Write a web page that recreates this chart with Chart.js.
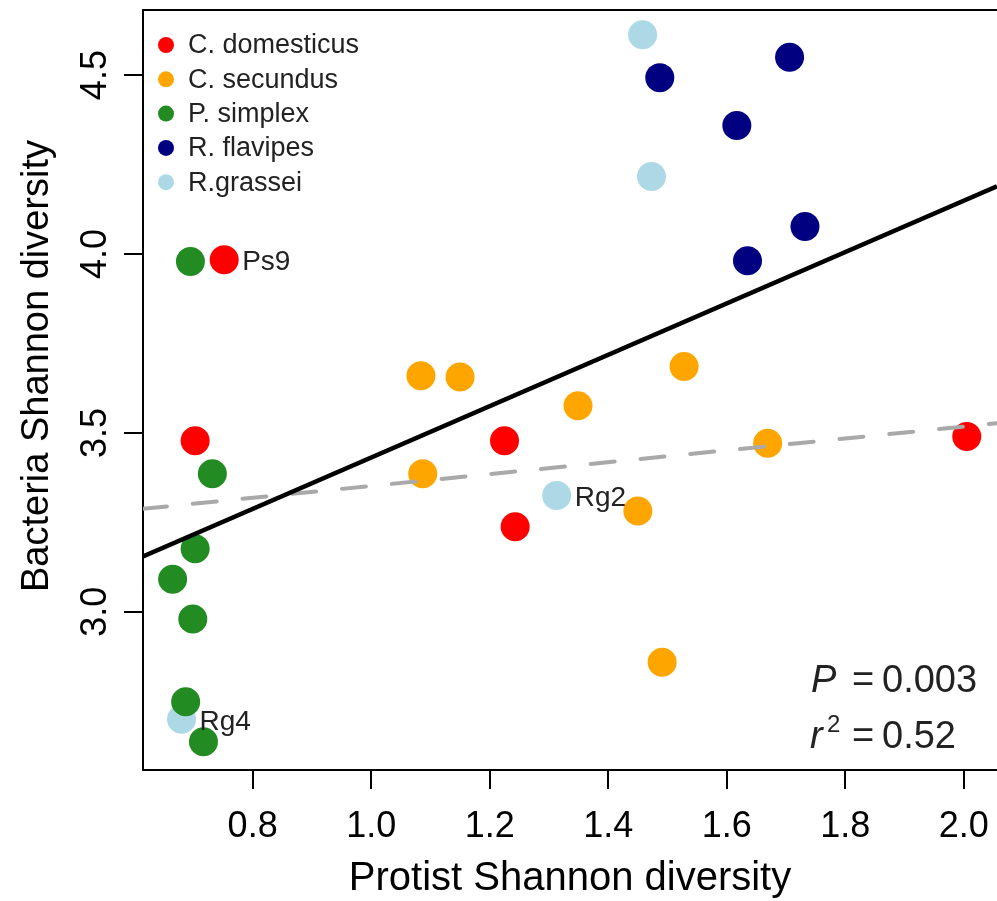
<!DOCTYPE html>
<html>
<head>
<meta charset="utf-8">
<script src="https://cdn.jsdelivr.net/npm/chart.js@4.4.1/dist/chart.umd.min.js"></script>
<style>
  html, body { margin: 0; padding: 0; background: #fff; }
</style>
</head>
<body>
<canvas id="chart" width="997" height="901"></canvas>
<script>
// species (legend order) and colours
const speciesNames = ['C. domesticus', 'C. secundus', 'P. simplex', 'R. flavipes', 'R.grassei'];
const speciesColors = ['#ff0000', '#ffa500', '#228b22', '#000080', '#add8e6'];

// protist (x) and bacteria (y) Shannon diversity per sample
const domesticusX = [0.752, 0.703, 1.225, 1.243, 2.005];
const domesticusY = [3.984, 3.478, 3.478, 3.238, 3.490];
const secundusX = [1.084, 1.150, 1.087, 1.349, 1.528, 1.669, 1.450, 1.491];
const secundusY = [3.660, 3.656, 3.386, 3.576, 3.686, 3.471, 3.282, 2.859];
const simplexX = [0.695, 0.732, 0.703, 0.665, 0.699, 0.687, 0.717];
const simplexY = [3.979, 3.386, 3.176, 3.091, 2.980, 2.749, 2.637];
const flavipesX = [1.487, 1.706, 1.617, 1.732, 1.635];
const flavipesY = [4.493, 4.550, 4.359, 4.077, 3.981];
const grasseiX = [1.458, 1.473, 1.313, 0.680];
const grasseiY = [4.613, 4.217, 3.325, 2.700];

// fitted lines (end points at the plot edges)
const fitX = [0.615, 2.056];
const fitY = [3.155, 4.189];
const dashFitX = [0.615, 2.056];
const dashFitY = [3.288, 3.527];

// axes
const xTicks = [0.8, 1.0, 1.2, 1.4, 1.6, 1.8, 2.0];
const yTicks = [3.0, 3.5, 4.0, 4.5];
const xMin = 0.615, xMax = 2.056;
const yMin = 2.558, yMax = 4.682;

// labelled samples: [text, species index, sample index]
const pointTags = [['Ps9', 0, 0], ['Rg2', 4, 2], ['Rg4', 4, 3]];

const family = 'Arial, "Liberation Sans", Helvetica, sans-serif';

function toPoints(xs, ys) {
    return xs.map((x, i) => ({ x: x, y: ys[i] }));
}

const seriesX = [domesticusX, secundusX, simplexX, flavipesX, grasseiX];
const seriesY = [domesticusY, secundusY, simplexY, flavipesY, grasseiY];

const lineSets = [
    { type: 'line', data: toPoints(fitX, fitY), borderColor: '#000', borderWidth: 4.5,
      pointRadius: 0, fill: false, order: 0 },
    { type: 'line', data: toPoints(dashFitX, dashFitY), borderColor: '#a9a9a9', borderWidth: 4,
      borderDash: [24, 26], borderCapStyle: 'round', pointRadius: 0, fill: false, order: 0 }
];
const pointSets = speciesNames.map((name, i) => ({
    label: name,
    data: toPoints(seriesX[i], seriesY[i]),
    backgroundColor: speciesColors[i],
    borderWidth: 0,
    pointRadius: 14.5,
    order: 1
}));

const decor = {
    id: 'decor',
    afterDraw(chart) {
        const c = chart.ctx;
        const a = chart.chartArea;
        c.save();
        // top of the box
        c.strokeStyle = '#000';
        c.lineWidth = 2;
        c.beginPath();
        c.moveTo(a.left, a.top);
        c.lineTo(a.right, a.top);
        c.stroke();

        // rotated y tick labels
        const ys = chart.scales.y;
        c.fillStyle = '#000';
        c.font = '36px ' + family;
        c.textAlign = 'center';
        c.textBaseline = 'middle';
        yTicks.forEach(v => {
            c.save();
            c.translate(96, ys.getPixelForValue(v));
            c.rotate(-Math.PI / 2);
            c.fillText(v.toFixed(1), 0, 0);
            c.restore();
        });

        // y axis title
        c.save();
        c.font = '38px ' + family;
        c.translate(38, 366);
        c.rotate(-Math.PI / 2);
        c.fillText('Bacteria Shannon diversity', 0, 0);
        c.restore();

        // legend
        c.font = '27px ' + family;
        c.textAlign = 'left';
        speciesNames.forEach((name, i) => {
            const y = a.top + 35 + i * 34.3;
            c.fillStyle = speciesColors[i];
            c.beginPath();
            c.arc(a.left + 23, y, 8, 0, Math.PI * 2);
            c.fill();
            c.fillStyle = '#222';
            c.fillText(name, a.left + 45, y + 1);
        });

        // sample tags
        c.font = '28px ' + family;
        c.fillStyle = '#222';
        pointTags.forEach(([text, s, k]) => {
            const pt = chart.getDatasetMeta(s + lineSets.length).data[k];
            c.fillText(text, pt.x + 18, pt.y + 3);
        });

        // statistics
        const bx = a.right - 186;
        const b1 = a.bottom - 78;
        const b2 = a.bottom - 22;
        c.textBaseline = 'alphabetic';
        c.font = 'italic 38px ' + family;
        c.fillText('P', bx, b1);
        c.fillText('r', bx - 1, b2);
        c.font = '38px ' + family;
        c.fillText('=', bx + 41, b1);
        c.fillText('0.003', bx + 71, b1);
        c.fillText('=', bx + 41, b2);
        c.fillText('0.52', bx + 71, b2);
        c.font = '24px ' + family;
        c.fillText('2', bx + 16, b2 - 16);
        c.restore();
    }
};

new Chart(document.getElementById('chart').getContext('2d'), {
    type: 'scatter',
    data: { datasets: lineSets.concat(pointSets) },
    options: {
        responsive: false,
        animation: false,
        devicePixelRatio: 1,
        layout: { autoPadding: false, padding: { top: 10, right: 0, bottom: 0, left: 0 } },
        plugins: { legend: { display: false }, tooltip: { enabled: false } },
        scales: {
            x: {
                type: 'linear', min: xMin, max: xMax,
                afterBuildTicks: s => { s.ticks = xTicks.map(v => ({ value: v })); },
                afterFit: s => { s.height = 131; s.paddingLeft = 0; s.paddingRight = 0; },
                grid: { drawOnChartArea: false, drawTicks: true, tickLength: 19, color: '#000', lineWidth: 2 },
                border: { display: true, color: '#000', width: 2 },
                ticks: { color: '#000', font: { family: family, size: 36 }, padding: 16,
                         maxRotation: 0, autoSkip: false, callback: v => v.toFixed(1) },
                title: { display: true, text: 'Protist Shannon diversity', color: '#000',
                         font: { family: family, size: 40, lineHeight: 1 }, padding: { top: 0, bottom: 2 } }
            },
            y: {
                type: 'linear', min: yMin, max: yMax,
                afterBuildTicks: s => { s.ticks = yTicks.map(v => ({ value: v })); },
                afterFit: s => { s.width = 143; s.paddingTop = 0; s.paddingBottom = 0; },
                grid: { drawOnChartArea: false, drawTicks: true, tickLength: 19, color: '#000', lineWidth: 2 },
                border: { display: true, color: '#000', width: 2 },
                ticks: { display: false }
            }
        }
    },
    plugins: [decor]
});
</script>
</body>
</html>
